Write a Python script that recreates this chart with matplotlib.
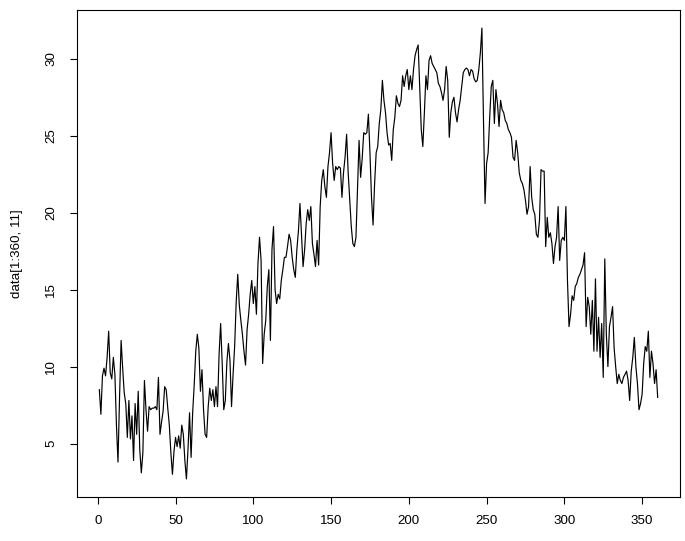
import matplotlib
matplotlib.use("Agg")
import matplotlib.pyplot as plt
import numpy as np

values = [
    8.5, 6.9, 9.4, 9.9, 9.4, 10.6, 12.3, 9.6, 9.2, 10.6,
    9.5, 6.2, 3.8, 8.0, 11.7, 9.9, 8.3, 7.6, 5.4, 7.8,
    5.3, 6.8, 3.9, 7.6, 5.6, 8.4, 4.6, 3.1, 4.4, 9.1,
    7.2, 5.8, 7.4, 7.2, 7.3, 7.3, 7.4, 7.2, 9.3, 5.6,
    6.4, 7.1, 8.7, 8.5, 7.3, 6.2, 4.4, 3.0, 4.5, 5.4,
    4.8, 5.5, 4.7, 6.2, 5.6, 3.9, 2.7, 4.6, 7.0, 4.1,
    7.0, 8.8, 11.0, 12.1, 11.2, 8.4, 9.8, 7.2, 5.6, 5.4,
    7.4, 8.6, 7.8, 8.5, 7.4, 8.7, 7.4, 10.8, 12.8, 10.2,
    7.2, 7.8, 10.3, 11.5, 10.4, 7.4, 9.5, 11.3, 14.2, 16.0,
    14.0, 13.0, 12.1, 11.0, 10.1, 12.4, 13.4, 14.7, 15.6, 14.1,
    15.2, 13.4, 16.7, 18.4, 16.9, 10.2, 12.1, 13.0, 15.2, 16.3,
    11.7, 17.6, 19.1, 15.0, 14.1, 14.7, 14.4, 15.6, 16.3, 17.1,
    17.1, 17.8, 18.6, 18.2, 17.1, 16.3, 15.8, 17.6, 18.8, 20.6,
    18.6, 16.5, 17.6, 19.3, 20.2, 19.5, 20.4, 18.0, 17.3, 16.5,
    18.2, 16.6, 20.4, 22.1, 22.8, 21.7, 21.0, 23.0, 23.9, 25.2,
    23.2, 22.1, 23.0, 22.8, 23.0, 22.9, 21.0, 22.6, 23.6, 25.1,
    22.6, 20.8, 19.1, 18.0, 17.8, 18.4, 21.5, 24.7, 22.3, 23.5,
    25.2, 25.1, 25.2, 26.4, 23.9, 21.0, 19.2, 21.9, 23.9, 24.3,
    25.8, 26.7, 28.6, 27.3, 26.5, 25.2, 24.4, 24.5, 23.4, 25.4,
    26.2, 27.6, 27.1, 26.9, 27.3, 28.9, 28.2, 28.9, 29.3, 28.0,
    28.9, 28.0, 29.3, 30.2, 30.6, 30.9, 28.2, 25.4, 24.3, 26.5,
    28.9, 28.0, 29.9, 30.2, 29.7, 29.5, 29.3, 29.1, 28.4, 28.2,
    27.8, 27.3, 28.0, 29.5, 28.6, 24.9, 26.5, 27.2, 27.5, 26.5,
    25.9, 26.7, 27.3, 28.2, 29.1, 29.3, 29.4, 29.3, 28.9, 29.3,
    29.2, 28.7, 28.5, 28.6, 29.3, 30.4, 32.0, 26.0, 20.6, 23.2,
    23.9, 26.2, 28.2, 28.6, 25.8, 28.0, 27.1, 25.6, 27.3, 26.7,
    26.5, 26.0, 25.8, 25.4, 25.2, 24.9, 23.6, 23.4, 24.7, 23.9,
    22.6, 22.1, 21.9, 21.5, 20.8, 19.9, 20.4, 23.0, 21.0, 20.2,
    19.9, 18.6, 18.4, 19.5, 22.8, 22.7, 22.7, 17.8, 19.7, 18.4,
    18.7, 18.0, 16.7, 17.8, 18.4, 20.4, 16.9, 18.2, 18.4, 18.2,
    20.4, 15.6, 12.6, 13.4, 14.6, 14.3, 15.2, 15.4, 15.8, 16.0,
    16.3, 16.6, 17.4, 12.6, 14.5, 13.9, 12.1, 14.3, 11.0, 15.7,
    11.0, 13.2, 10.6, 12.8, 9.3, 17.0, 12.1, 10.0, 12.6, 13.2,
    13.9, 11.2, 10.0, 8.9, 9.5, 9.1, 8.9, 9.3, 9.5, 9.7,
    9.1, 7.8, 9.7, 10.6, 11.9, 10.0, 8.9, 7.2, 7.6, 8.2,
    10.2, 11.3, 11.0, 12.3, 9.3, 11.0, 10.2, 8.9, 9.8, 8.0,
]
index = list(range(1, len(values) + 1))
x_ticks = [0, 50, 100, 150, 200, 250, 300, 350]
y_ticks = [5, 10, 15, 20, 25, 30]
y_label = "data[1:360, 11]"

plt.rcParams['font.family'] = ['Liberation Sans', 'DejaVu Sans']

fig = plt.figure(figsize=(6.85, 5.41), dpi=100)
ax = fig.add_axes([77/685, 1 - 497/541, (680-77)/685, (497-10)/541])
ax.plot(index, values, color='black', linewidth=0.85)

xr = max(index) - min(index)
ax.set_xlim(min(index) - 0.04*xr, max(index) + 0.04*xr)
yr = max(values) - min(values)
ax.set_ylim(min(values) - 0.04*yr, max(values) + 0.04*yr)

ax.set_xticks(x_ticks)
ax.set_yticks(y_ticks)
ax.set_xticklabels([str(v) for v in x_ticks])
ax.set_yticklabels([str(v) for v in y_ticks], rotation=90, va='center')
ax.tick_params(axis='both', direction='out', length=5.2, width=0.8, colors='black', labelsize=9.6)
ax.tick_params(axis='x', pad=8)
ax.tick_params(axis='y', pad=9)
for s in ax.spines.values():
    s.set_linewidth(0.8)
    s.set_color('black')
ax.set_ylabel(y_label, fontsize=9.6, labelpad=16)

fig.savefig("out.png", dpi=100)
